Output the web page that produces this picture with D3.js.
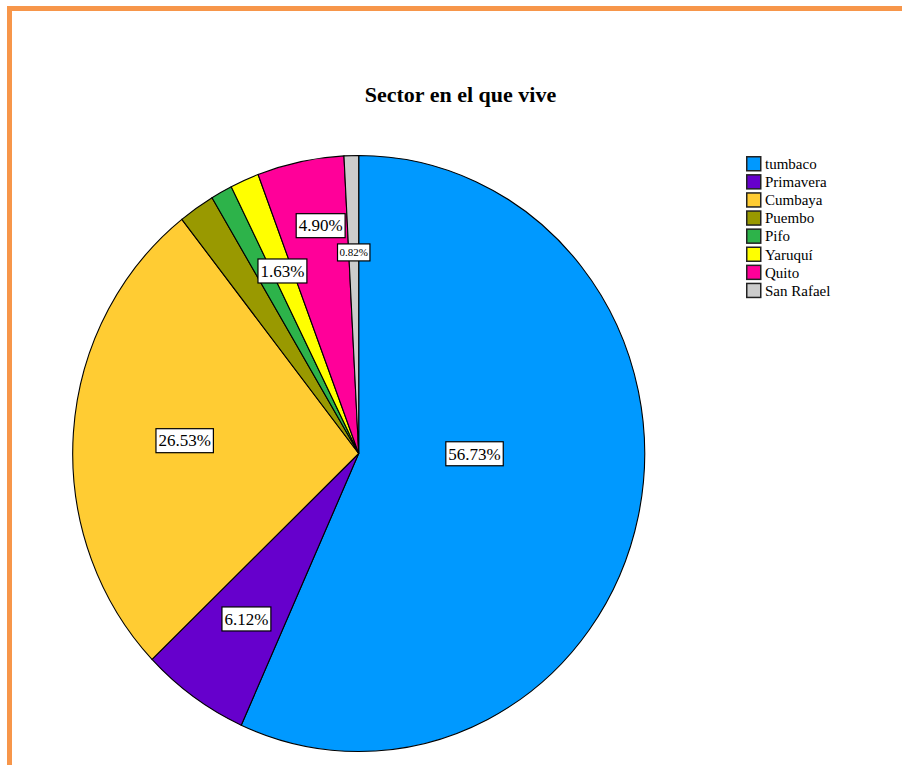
<!DOCTYPE html>
<html>
<head>
<meta charset="utf-8">
<script src="https://cdn.jsdelivr.net/npm/d3@7"></script>
<style>
  body { margin: 0; background: #fff; }
</style>
</head>
<body>
<svg id="chart" width="902" height="765"></svg>
<script>
// Data (percent of respondents)
const categories = ['tumbaco', 'Primavera', 'Cumbaya', 'Puembo', 'Pifo', 'Yaruquí', 'Quito', 'San Rafael'];
const percents = [56.73, 6.12, 26.53, 2.04, 1.22, 1.63, 4.90, 0.82];
const shownLabels = [true, true, true, false, false, true, true, true];
const colors = ['#0099ff', '#6600cc', '#ffcc33', '#999900', '#2db34a', '#ffff00', '#ff0099', '#cccccc'];

// label placement: fraction of radius and angle shift (deg) from slice mid-angle
const labelFrac = [0.405, 0.68, 0.61, 0.67, 0.67, 0.668, 0.776, 0.675];
const labelShift = [-12, 0, 0, 0, 0, 0, 1.9, 0];
const labelSize = [17, 17, 17, 17, 17, 17, 17, 11];

const serif = '"Liberation Serif", "Times New Roman", "DejaVu Serif", serif';

const svg = d3.select('#chart');

// orange frame (only top / left visible)
svg.append('rect')
    .attr('x', 9.5).attr('y', 8.5)
    .attr('width', 1000).attr('height', 1000)
    .attr('fill', 'none')
    .attr('stroke', '#f7964a')
    .attr('stroke-width', 5);

svg.append('text')
    .attr('x', 460.5).attr('y', 102)
    .attr('text-anchor', 'middle')
    .attr('font-family', serif)
    .attr('font-size', 22)
    .attr('font-weight', 'bold')
    .text('Sector en el que vive');

const cx = 358.7, cy = 453.5, rx = 286, ry = 298;

const pie = d3.pie().sort(null).value(d => d)(percents);
const arc = d3.arc().innerRadius(0).outerRadius(rx);

const pieG = svg.append('g')
    .attr('transform', `translate(${cx},${cy}) scale(1,${ry / rx})`);

pieG.selectAll('path.slice')
    .data(pie)
    .join('path')
    .attr('class', 'slice')
    .attr('d', arc)
    .attr('fill', (d, i) => colors[i])
    .attr('stroke', '#000')
    .attr('stroke-width', 1.1)
    .attr('vector-effect', 'non-scaling-stroke');

// labels
const labelG = svg.append('g');
pie.forEach((d, i) => {
    if (!shownLabels[i]) return;
    const a = (d.startAngle + d.endAngle) / 2 + labelShift[i] * Math.PI / 180;
    const x = cx + labelFrac[i] * rx * Math.sin(a);
    const y = cy - labelFrac[i] * ry * Math.cos(a);
    const g = labelG.append('g').attr('transform', `translate(${x},${y})`);
    const t = g.append('text')
        .attr('text-anchor', 'middle')
        .attr('dy', '0.34em')
        .attr('font-family', serif)
        .attr('font-size', labelSize[i])
        .text(percents[i].toFixed(2) + '%');
    const bb = t.node().getBBox();
    const padX = labelSize[i] > 12 ? 2.5 : 2;
    const h = labelSize[i] > 12 ? 24 : 17;
    g.insert('rect', 'text')
        .attr('x', bb.x - padX).attr('y', -h / 2)
        .attr('width', bb.width + padX * 2).attr('height', h)
        .attr('fill', '#fff')
        .attr('stroke', '#000')
        .attr('stroke-width', 1.2);
});

// legend
const legend = svg.append('g').attr('transform', 'translate(746,156)');
const rowStep = 18.1;
const rows = legend.selectAll('g.row')
    .data(categories)
    .join('g')
    .attr('class', 'row')
    .attr('transform', (d, i) => `translate(0,${i * rowStep})`);

rows.append('rect')
    .attr('x', 0.75).attr('y', 0.75)
    .attr('width', 14).attr('height', 14)
    .attr('fill', (d, i) => colors[i])
    .attr('stroke', '#222')
    .attr('stroke-width', 1.5);

rows.append('text')
    .attr('x', 19).attr('y', 13)
    .attr('font-family', serif)
    .attr('font-size', 15)
    .text(d => d);
</script>
</body>
</html>
